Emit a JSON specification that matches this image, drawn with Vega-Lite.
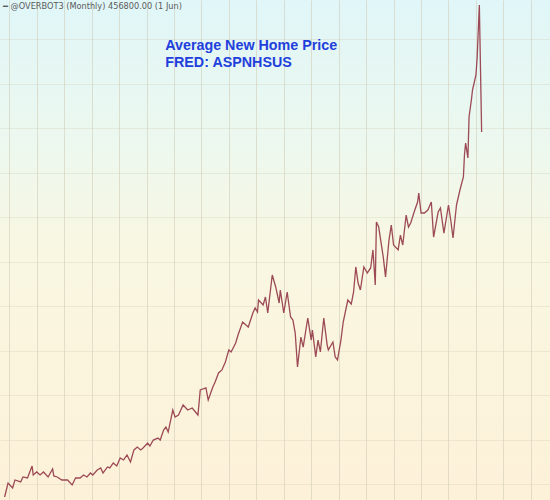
{
  "$schema": "https://vega.github.io/schema/vega-lite/v6.json",
  "width": 550,
  "height": 500,
  "autosize": {"type": "fit", "contains": "padding"},
  "padding": 0,
  "background": "#fdf3dc",
  "config": {
    "view": {
      "stroke": null,
      "fill": {
        "gradient": "linear",
        "x1": 0, "y1": 0, "x2": 0, "y2": 1,
        "stops": [
          {"offset": 0, "color": "#e0f6f8"},
          {"offset": 0.3, "color": "#edf8ee"},
          {"offset": 0.5, "color": "#f9f7e2"},
          {"offset": 1, "color": "#fdf1d8"}
        ]
      }
    },
    "axis": {"labels": false, "ticks": false, "domain": false, "title": null, "grid": true}
  },
  "layer": [
    {
      "data": {
        "values": [
          {"date": "1987-09", "price": 128700}, {"date": "1987-12", "price": 141300}, {"date": "1988-04", "price": 136800},
          {"date": "1988-06", "price": 144000}, {"date": "1988-11", "price": 142200}, {"date": "1989-01", "price": 146700},
          {"date": "1989-05", "price": 145800}, {"date": "1989-07", "price": 151200}, {"date": "1989-09", "price": 156600},
          {"date": "1989-10", "price": 148500}, {"date": "1990-01", "price": 151200}, {"date": "1990-04", "price": 148500},
          {"date": "1990-07", "price": 151200}, {"date": "1990-11", "price": 146700}, {"date": "1991-03", "price": 153900},
          {"date": "1991-04", "price": 147600}, {"date": "1991-07", "price": 146700}, {"date": "1991-11", "price": 144000},
          {"date": "1992-04", "price": 144000}, {"date": "1992-08", "price": 139500}, {"date": "1992-11", "price": 145800},
          {"date": "1993-03", "price": 145800}, {"date": "1993-06", "price": 148500}, {"date": "1993-09", "price": 146700},
          {"date": "1993-12", "price": 150300}, {"date": "1994-02", "price": 148500}, {"date": "1994-06", "price": 153000},
          {"date": "1994-09", "price": 154800}, {"date": "1994-11", "price": 150300}, {"date": "1995-03", "price": 155700},
          {"date": "1995-05", "price": 154800}, {"date": "1995-08", "price": 159300}, {"date": "1995-11", "price": 156600},
          {"date": "1996-02", "price": 163800}, {"date": "1996-05", "price": 162000}, {"date": "1996-08", "price": 166500},
          {"date": "1996-11", "price": 160200}, {"date": "1997-02", "price": 171000}, {"date": "1997-05", "price": 173600},
          {"date": "1997-08", "price": 171000}, {"date": "1997-10", "price": 172700}, {"date": "1998-02", "price": 177200},
          {"date": "1998-04", "price": 174500}, {"date": "1998-07", "price": 179900}, {"date": "1998-11", "price": 181700},
          {"date": "1999-01", "price": 179900}, {"date": "1999-04", "price": 188900}, {"date": "1999-06", "price": 191600},
          {"date": "1999-08", "price": 187100}, {"date": "1999-12", "price": 206900}, {"date": "2000-02", "price": 200600},
          {"date": "2000-05", "price": 202400}, {"date": "2000-09", "price": 211400}, {"date": "2001-01", "price": 206900},
          {"date": "2001-05", "price": 208700}, {"date": "2001-10", "price": 202400}, {"date": "2001-12", "price": 224900},
          {"date": "2002-05", "price": 226700}, {"date": "2002-07", "price": 215900}, {"date": "2002-11", "price": 227600},
          {"date": "2003-01", "price": 232100}, {"date": "2003-04", "price": 240200}, {"date": "2003-07", "price": 242900},
          {"date": "2003-10", "price": 250100}, {"date": "2004-01", "price": 260900}, {"date": "2004-03", "price": 259100},
          {"date": "2004-07", "price": 267100}, {"date": "2004-09", "price": 274300}, {"date": "2005-01", "price": 286000},
          {"date": "2005-04", "price": 283300}, {"date": "2005-06", "price": 281500}, {"date": "2005-10", "price": 294100},
          {"date": "2005-12", "price": 298600}, {"date": "2006-02", "price": 295000}, {"date": "2006-03", "price": 305800},
          {"date": "2006-07", "price": 301300}, {"date": "2006-09", "price": 308500}, {"date": "2006-11", "price": 294100},
          {"date": "2007-03", "price": 328300}, {"date": "2007-06", "price": 317500}, {"date": "2007-09", "price": 303100},
          {"date": "2007-10", "price": 314800}, {"date": "2008-01", "price": 294100}, {"date": "2008-04", "price": 313000},
          {"date": "2008-07", "price": 290500}, {"date": "2008-09", "price": 287800}, {"date": "2008-11", "price": 276100},
          {"date": "2009-01", "price": 245600}, {"date": "2009-04", "price": 272500}, {"date": "2009-06", "price": 263500},
          {"date": "2009-10", "price": 289600}, {"date": "2010-01", "price": 269800}, {"date": "2010-02", "price": 278800},
          {"date": "2010-05", "price": 254600}, {"date": "2010-07", "price": 269800}, {"date": "2010-09", "price": 259100},
          {"date": "2010-12", "price": 289600}, {"date": "2011-03", "price": 265300}, {"date": "2011-04", "price": 260900},
          {"date": "2011-08", "price": 268000}, {"date": "2011-10", "price": 254600}, {"date": "2011-12", "price": 251900},
          {"date": "2012-03", "price": 269800}, {"date": "2012-05", "price": 286000}, {"date": "2012-09", "price": 305800},
          {"date": "2012-12", "price": 302200}, {"date": "2013-02", "price": 313000}, {"date": "2013-04", "price": 335500},
          {"date": "2013-06", "price": 321100}, {"date": "2013-08", "price": 314800}, {"date": "2013-11", "price": 335500},
          {"date": "2014-02", "price": 330100}, {"date": "2014-05", "price": 334600}, {"date": "2014-07", "price": 350800},
          {"date": "2014-09", "price": 319300}, {"date": "2014-10", "price": 375900}, {"date": "2014-12", "price": 371400},
          {"date": "2015-04", "price": 344500}, {"date": "2015-06", "price": 326500}, {"date": "2015-09", "price": 359700},
          {"date": "2015-11", "price": 373200}, {"date": "2016-01", "price": 355200}, {"date": "2016-05", "price": 350800},
          {"date": "2016-07", "price": 364200}, {"date": "2016-09", "price": 355200}, {"date": "2016-12", "price": 382200},
          {"date": "2017-02", "price": 371400}, {"date": "2017-04", "price": 375000}, {"date": "2017-07", "price": 384900},
          {"date": "2017-10", "price": 393900}, {"date": "2017-11", "price": 402000}, {"date": "2018-01", "price": 384000},
          {"date": "2018-04", "price": 384000}, {"date": "2018-07", "price": 386700}, {"date": "2018-10", "price": 393900},
          {"date": "2018-12", "price": 362400}, {"date": "2019-04", "price": 384900}, {"date": "2019-06", "price": 388500},
          {"date": "2019-09", "price": 366000}, {"date": "2020-01", "price": 391200}, {"date": "2020-03", "price": 377700},
          {"date": "2020-05", "price": 361500}, {"date": "2020-08", "price": 391200}, {"date": "2020-09", "price": 395700},
          {"date": "2020-11", "price": 404700}, {"date": "2021-02", "price": 416400}, {"date": "2021-03", "price": 436200},
          {"date": "2021-04", "price": 446900}, {"date": "2021-06", "price": 433500}, {"date": "2021-07", "price": 470300},
          {"date": "2021-09", "price": 485600}, {"date": "2021-10", "price": 494600}, {"date": "2021-11", "price": 499100},
          {"date": "2022-01", "price": 508100}, {"date": "2022-02", "price": 523400}, {"date": "2022-04", "price": 571000},
          {"date": "2022-06", "price": 456800}
        ]
      },
      "mark": {"type": "line", "color": "#9c4a55", "strokeWidth": 1.3},
      "encoding": {
        "x": {
          "field": "date", "type": "temporal",
          "scale": {"domain": ["1987-05-01", "2027-05-25"]},
          "axis": {"tickCount": {"interval": "year", "step": 2}, "gridColor": "#d2cdb8", "gridOpacity": 0.6}
        },
        "y": {
          "field": "price", "type": "quantitative",
          "scale": {"domain": [126000, 575500], "zero": false, "nice": false},
          "axis": {
            "values": [140000, 160000, 180000, 200000, 220000, 240000, 260000, 280000, 300000, 320000, 340000, 360000, 380000, 400000, 420000, 440000, 460000, 480000, 500000, 520000, 540000, 560000],
            "gridColor": "#d2cdb8", "gridOpacity": 0.35
          }
        }
      }
    },
    {
      "data": {
        "values": [
          {"date": "1999-05-15", "price": 530500, "label": "Average New Home Price"},
          {"date": "1999-05-15", "price": 515300, "label": "FRED: ASPNHSUS"}
        ]
      },
      "mark": {"type": "text", "align": "left", "baseline": "alphabetic", "font": "Liberation Sans", "fontWeight": "bold", "fontSize": 14.3, "color": "#1f40dc"},
      "encoding": {
        "x": {"field": "date", "type": "temporal"},
        "y": {"field": "price", "type": "quantitative"},
        "text": {"field": "label"}
      }
    },
    {
      "data": {
        "values": [
          {"date": "1987-07-20", "price": 567800, "label": "━ @OVERBOT3 (Monthly) 456800.00 (1 Jun)"}
        ]
      },
      "mark": {"type": "text", "align": "left", "baseline": "alphabetic", "font": "DejaVu Sans", "fontSize": 8.2, "color": "#5a5a5a"},
      "encoding": {
        "x": {"field": "date", "type": "temporal"},
        "y": {"field": "price", "type": "quantitative"},
        "text": {"field": "label"}
      }
    }
  ]
}
